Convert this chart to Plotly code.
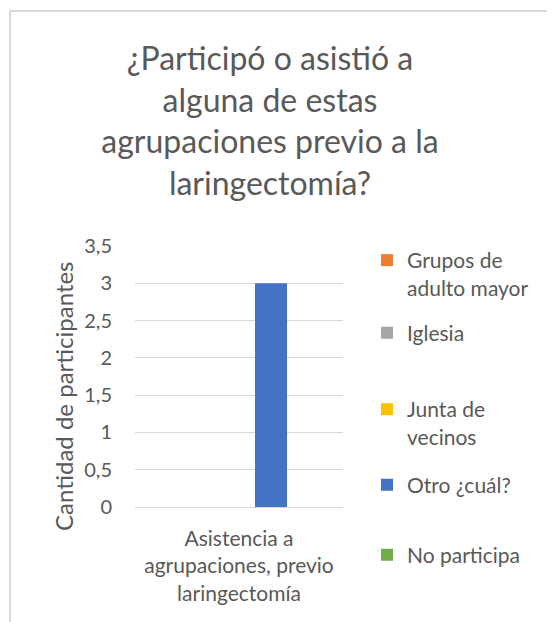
import plotly.graph_objects as go

# ---- data ----
categories = ["Asistencia a<br>agrupaciones, previo<br>laringectomía"]
series_names = ["Grupos de<br>adulto mayor", "Iglesia", "Junta de<br>vecinos", "Otro ¿cuál?", "No participa"]
series_values = [[0], [0], [0], [3], [0]]
series_colors = ["#ED7D31", "#A5A5A5", "#FFC000", "#4472C4", "#70AD47"]
y_ticks = [0, 0.5, 1, 1.5, 2, 2.5, 3, 3.5]

title_text = "¿Participó o asistió a<br>alguna de estas<br>agrupaciones previo a la<br>laringectomía?"
y_title = "Cantidad de participantes"

FONT = "Lato, 'Open Sans', sans-serif"
TXT = "#595959"
GRID = "#D9D9D9"

OFF = 8  # page body margin
W, H = 555 - OFF, 622 - OFF
PL, PR, PT, PB = 135 - OFF, 343 - OFF, 246 - OFF, 507 - OFF  # plot area (figure px)


def px_x(p):
    """page pixel x -> paper coordinate"""
    return (p - OFF - PL) / (PR - PL)


def px_y(p):
    """page pixel y -> paper coordinate"""
    return (PB - (p - OFF)) / (PB - PT)


legend_centers = [274, 333, 423, 485, 555]
legend_names = ["legend", "legend2", "legend3", "legend4", "legend5"]

fig = go.Figure()
for i, (name, vals, col) in enumerate(zip(series_names, series_values, series_colors)):
    fig.add_trace(go.Bar(
        x=categories, y=vals, name=name,
        marker=dict(color=col, line=dict(width=0)),
        legend=legend_names[i],
    ))

layout_legends = {}
for i, ln in enumerate(legend_names):
    layout_legends[ln] = dict(
        x=px_x(367), y=px_y(legend_centers[i]), xanchor="left", yanchor="middle",
        font=dict(family=FONT, size=21, color=TXT), valign="top",
        bgcolor="rgba(0,0,0,0)", borderwidth=0, itemwidth=30,
    )

fig.update_layout(
    width=W, height=H,
    margin=dict(l=PL, r=W - PR, t=PT, b=H - PB, pad=0),
    paper_bgcolor="white", plot_bgcolor="white",
    barmode="group", bargap=0.23, bargroupgap=0,
    separators=",.",
    font=dict(family=FONT, color=TXT),
    title=dict(
        text=title_text, x=(270 - OFF) / W, xanchor="center", xref="container",
        y=1 - 62 / H, yanchor="top", yref="container",
        font=dict(family=FONT, size=32, color=TXT),
    ),
    showlegend=True,
    **layout_legends,
)

fig.update_yaxes(
    range=[0, 3.5], tickvals=y_ticks, tickformat=",.1~f",
    showgrid=True, gridcolor=GRID, gridwidth=1,
    zeroline=True, zerolinecolor=GRID, zerolinewidth=1,
    showline=False, ticks="", ticklabelstandoff=22,
    tickfont=dict(family=FONT, size=20, color=TXT),
)
fig.update_xaxes(
    showline=False, ticks="", showgrid=False, ticklabelstandoff=17,
    tickfont=dict(family=FONT, size=21, color=TXT),
)

# y axis title
fig.add_annotation(
    text=y_title, xref="paper", yref="paper", x=px_x(63), y=px_y(396),
    textangle=-90, showarrow=False, xanchor="center", yanchor="middle",
    font=dict(family=FONT, size=24, color=TXT),
)

# chart frame (top and left edges visible)
fig.add_shape(type="line", xref="paper", yref="paper",
              x0=px_x(10), x1=px_x(570), y0=px_y(11), y1=px_y(11),
              line=dict(color=GRID, width=2))
fig.add_shape(type="line", xref="paper", yref="paper",
              x0=px_x(10), x1=px_x(10), y0=px_y(11), y1=px_y(640),
              line=dict(color=GRID, width=2))

fig.write_html("out.html")
